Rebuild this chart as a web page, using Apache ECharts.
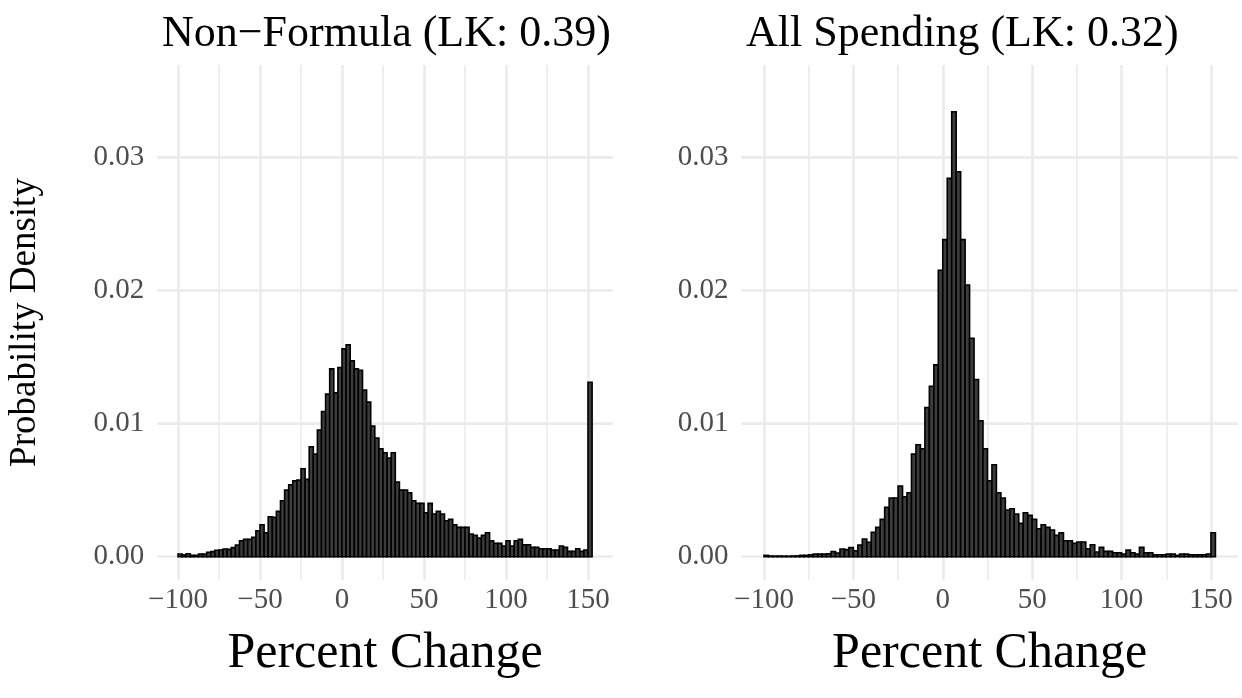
<!DOCTYPE html>
<html>
<head>
<meta charset="utf-8">
<script src="https://cdn.jsdelivr.net/npm/echarts@6/dist/echarts.min.js"></script>
<style>
  html, body { margin: 0; padding: 0; background: #ffffff; }
  #chart { width: 1242px; height: 698px; }
</style>
</head>
<body>
<div id="chart"></div>
<script>
// Histogram bins: 2.5-point bins from -100, the last bin holds values capped at 150
const BIN_START = -100;
const BIN_WIDTH = 2.5;

// Probability density per bin, non-formula spending
const nonFormulaDensity = [
  0.0002, 0.00015, 0.00022, 0.0001, 0.0001, 0.0002, 0.0002, 0.00033, 0.00038, 0.00048,
  0.0005, 0.00058, 0.00055, 0.00068, 0.00088, 0.0012, 0.0013, 0.0013, 0.00145, 0.00195,
  0.0024, 0.0018, 0.003, 0.00295, 0.0034, 0.0042, 0.005, 0.0054, 0.0057, 0.00575,
  0.0066, 0.0058, 0.00825, 0.0077, 0.0095, 0.0109, 0.0122, 0.0141, 0.0123, 0.0142,
  0.0156, 0.0159, 0.0147, 0.0141, 0.014, 0.0125, 0.0116, 0.0098, 0.0089, 0.0081,
  0.0078, 0.0074, 0.0078, 0.0056, 0.005, 0.005, 0.0048, 0.0042, 0.004, 0.004,
  0.0033, 0.004, 0.0032, 0.0034, 0.0032, 0.0027, 0.0028, 0.0024, 0.0022, 0.0022,
  0.0022, 0.0017, 0.0016, 0.0014, 0.0016, 0.0018, 0.0012, 0.001, 0.001, 0.0008,
  0.0012, 0.0008, 0.0012, 0.0013, 0.0009, 0.0009, 0.0007, 0.0007, 0.0006, 0.0006,
  0.0006, 0.0005, 0.0005, 0.0008, 0.0007, 0.0004, 0.0004, 0.0006, 0.0004, 0.0005,
  0.0131
];

// Probability density per bin, all spending
const allSpendingDensity = [
  0.0001, 0.00005, 0.00004, 0.00005, 0.00004, 0.00004, 0.00005, 0.00006, 0.0001, 0.0001,
  0.00015, 0.0002, 0.0002, 0.0002, 0.00022, 0.00038, 0.00028, 0.00058, 0.00053, 0.00068,
  0.00045, 0.00088, 0.00133, 0.00108, 0.00183, 0.0022, 0.0028, 0.0037, 0.0044, 0.0044,
  0.0053, 0.0045, 0.0048, 0.0077, 0.0084, 0.0081, 0.0112, 0.0128, 0.0144, 0.0215,
  0.0238, 0.0284, 0.0334, 0.0289, 0.0238, 0.0204, 0.0164, 0.0133, 0.0102, 0.0081,
  0.0057, 0.0069, 0.0048, 0.0044, 0.0035, 0.0036, 0.0032, 0.0025, 0.0033, 0.0031,
  0.0028, 0.0021, 0.0024, 0.0022, 0.002, 0.0016, 0.0018, 0.0012, 0.0012, 0.001,
  0.0011, 0.0011, 0.0006, 0.0009, 0.00035, 0.0007, 0.0004, 0.0004, 0.0003, 0.0003,
  0.0002, 0.0005, 0.0003, 0.0002, 0.0007, 0.0003, 0.0003, 0.00015, 0.00015, 0.00015,
  0.0002, 0.0002, 0.0001, 0.0002, 0.0002, 0.00015, 0.00015, 0.00015, 0.00015, 0.0002,
  0.0018
];

const panelTitles = ['Non\u2212Formula (LK: 0.39)', 'All Spending (LK: 0.32)'];
const xTitle = 'Percent Change';
const yTitle = 'Probability Density';

const xTickValues = [-100, -50, 0, 50, 100, 150];
const yTickValues = [0, 0.01, 0.02, 0.03];
const xMinorValues = [-75, -25, 25, 75, 125];
const yMinorValues = [0.005, 0.015, 0.025, 0.035];

// Plot ranges (data extent plus 5% padding each side)
const X_MIN = -112.625, X_MAX = 165.125;
const Y_MIN = -0.00175, Y_MAX = 0.03691;

const FONT = "'Liberation Serif', 'Times New Roman', serif";
const GRID_COLOR = '#ebebeb';

function binRows(values) {
  return values.map((v, i) => {
    const x0 = BIN_START + i * BIN_WIDTH;
    return [x0, x0 + BIN_WIDTH, v];
  });
}

function renderBin(params, api) {
  const x0 = api.value(0), x1 = api.value(1), y = api.value(2);
  const topLeft = api.coord([x0, y]);
  const bottomRight = api.coord([x1, 0]);
  return {
    type: 'rect',
    shape: {
      x: topLeft[0],
      y: topLeft[1],
      width: bottomRight[0] - topLeft[0],
      height: bottomRight[1] - topLeft[1]
    },
    style: { fill: '#3c3c3c', stroke: '#000000', lineWidth: 1.6 }
  };
}

function minusLabel(v) {
  return v < 0 ? '\u2212' + Math.abs(v) : String(v);
}

// Background panel grid: major and minor lines behind the bars
function gridLines(idx) {
  const major = { color: GRID_COLOR, width: 2.6, type: 'solid' };
  const minor = { color: GRID_COLOR, width: 1.6, type: 'solid' };
  const data = [];
  xTickValues.forEach(v => data.push({ xAxis: v, lineStyle: major }));
  xMinorValues.forEach(v => data.push({ xAxis: v, lineStyle: minor }));
  yTickValues.forEach(v => data.push({ yAxis: v, lineStyle: major }));
  yMinorValues.forEach(v => data.push({ yAxis: v, lineStyle: minor }));
  return {
    type: 'line',
    xAxisIndex: idx,
    yAxisIndex: idx,
    data: [],
    z: 1,
    silent: true,
    markLine: {
      z: 1,
      silent: true,
      symbol: 'none',
      label: { show: false },
      animation: false,
      data: data
    }
  };
}

function xAxisFor(idx) {
  return {
    type: 'value',
    gridIndex: idx,
    min: X_MIN,
    max: X_MAX,
    name: xTitle,
    nameLocation: 'middle',
    nameGap: 49,
    nameTextStyle: { fontFamily: FONT, fontSize: 50, color: '#000000' },
    axisLine: { show: false },
    axisTick: { show: false },
    splitLine: { show: false },
    axisLabel: {
      customValues: xTickValues,
      formatter: minusLabel,
      margin: 6,
      fontFamily: FONT,
      fontSize: 29,
      color: '#4d4d4d'
    }
  };
}

function yAxisFor(idx) {
  const axis = {
    type: 'value',
    gridIndex: idx,
    min: Y_MIN,
    max: Y_MAX,
    axisLine: { show: false },
    axisTick: { show: false },
    splitLine: { show: false },
    axisLabel: {
      customValues: yTickValues,
      formatter: v => v.toFixed(2),
      margin: 13,
      fontFamily: FONT,
      fontSize: 29,
      color: '#4d4d4d'
    }
  };
  if (idx === 0) {
    axis.name = yTitle;
    axis.nameLocation = 'middle';
    axis.nameRotate = 90;
    axis.nameGap = 114;
    axis.nameTextStyle = { fontFamily: FONT, fontSize: 37, color: '#000000' };
  }
  return axis;
}

const chart = echarts.init(document.getElementById('chart'), null, { renderer: 'canvas' });

chart.setOption({
  animation: false,
  backgroundColor: '#ffffff',
  title: [
    { text: panelTitles[0], left: 157, top: 7,
      textStyle: { fontFamily: FONT, fontSize: 44, fontWeight: 'normal', color: '#000000' } },
    { text: panelTitles[1], left: 741, top: 7,
      textStyle: { fontFamily: FONT, fontSize: 44, fontWeight: 'normal', color: '#000000' } }
  ],
  grid: [
    { left: 157.3, top: 65, width: 455.5, height: 515, outerBoundsMode: 'none' },
    { left: 741.4, top: 65, width: 496.6, height: 515, outerBoundsMode: 'none' }
  ],
  xAxis: [xAxisFor(0), xAxisFor(1)],
  yAxis: [yAxisFor(0), yAxisFor(1)],
  series: [
    gridLines(0),
    gridLines(1),
    {
      type: 'custom',
      name: panelTitles[0],
      xAxisIndex: 0,
      yAxisIndex: 0,
      z: 10,
      renderItem: renderBin,
      encode: { x: [0, 1], y: 2 },
      data: binRows(nonFormulaDensity)
    },
    {
      type: 'custom',
      name: panelTitles[1],
      xAxisIndex: 1,
      yAxisIndex: 1,
      z: 10,
      renderItem: renderBin,
      encode: { x: [0, 1], y: 2 },
      data: binRows(allSpendingDensity)
    }
  ]
});
</script>
</body>
</html>
